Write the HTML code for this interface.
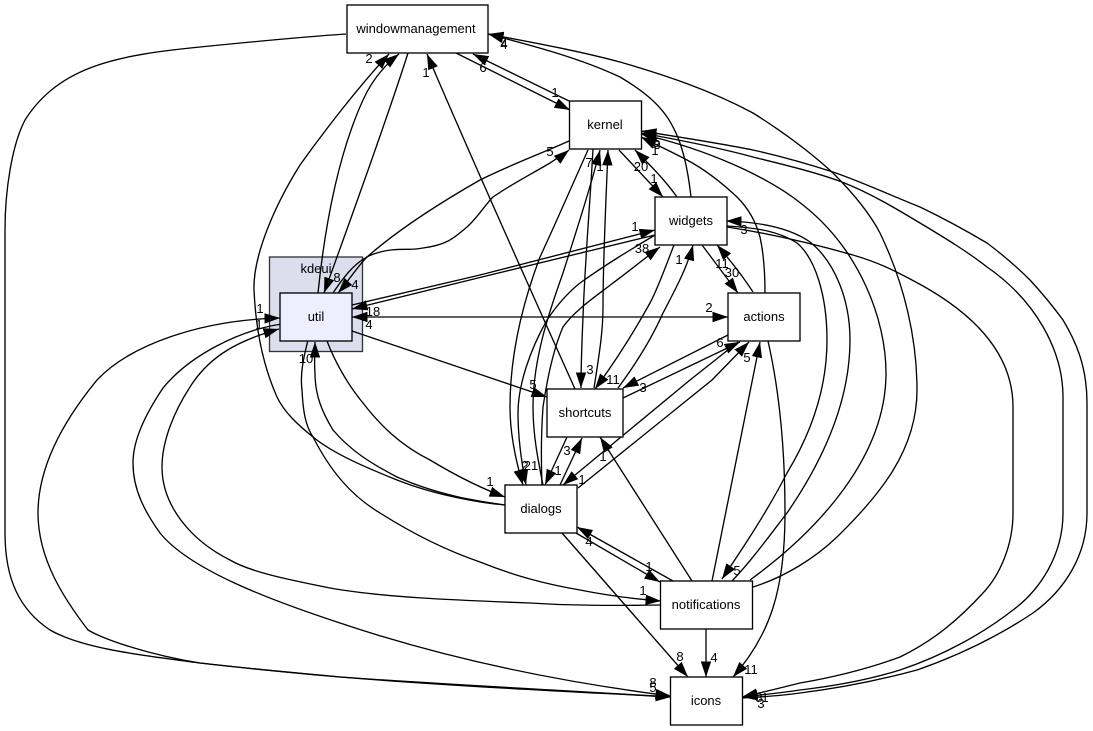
<!DOCTYPE html>
<html><head><meta charset="utf-8"><style>
html,body{margin:0;padding:0;background:#fff;width:1093px;height:731px;overflow:hidden}
svg{display:block}
text{font-family:"Liberation Sans",sans-serif;font-size:13px;fill:#000}
.t{text-anchor:middle}
.e path{fill:none;stroke:#000;stroke-width:1.33;marker-end:url(#a)}
.b{fill:#fff;stroke:#000;stroke-width:1.33}
</style></head><body>
<svg width="1093" height="731" viewBox="0 0 1093 731" xmlns="http://www.w3.org/2000/svg">
<defs><marker id="a" markerUnits="userSpaceOnUse" markerWidth="16" markerHeight="12" refX="15.5" refY="6" orient="auto"><polygon points="0,0.8 15.5,6 0,11.2" fill="#000"/></marker>
<marker id="s" markerUnits="userSpaceOnUse" markerWidth="16" markerHeight="12" refX="15.5" refY="6" orient="auto-start-reverse"><polygon points="0,0.8 15.5,6 0,11.2" fill="#000"/></marker></defs>
<rect x="269.5" y="257" width="93" height="94.5" fill="#ddddee" stroke="#333" stroke-width="1.33"/>
<text class="t" x="316" y="273">kdeui</text>
<g class="e">
<path d="M346,34 C300,37 250,42 200,47 C120,55 60,65 25,120 C12,145 5,190 5,230 L5,533 C5,580 20,610 50,630 C85,650 150,656 200,663 C250,669 300,673 340,677 C450,686 560,691 671,697"/>
<path d="M505,505 C480,503 435,495 397,480 C370,469 335,455 313,437 C298,425 284,412 277,397 C265,370 256,335 254,290 C253,255 275,205 300,165 C325,130 360,85 389,54"/>
<path d="M318,293 C325,225 338,155 363,100 C372,80 385,65 399,54"/>
<path d="M408,53 C390,110 345,235 324,293"/>
<path d="M569,141 C540,154 510,165 480,180 C445,200 400,228 367,257 C357,267 347,283 338,293"/>
<path d="M333,293 C345,275 358,258 377,253 C395,247 410,251 423,248 C445,245 452,240 467,227 C478,217 485,205 493,197 C510,185 535,172 550,163 C557,158 563,155 569,150"/>
<path d="M569,101 L473,54"/>
<path d="M456,53 L570,110"/>
<path d="M691,197 C688,170 683,145 673,127 C662,105 642,90 620,77 C580,58 530,45 488,34"/>
<path d="M753,587 C785,577 815,558 837,537 C880,495 917,450 917,390 C917,340 905,285 880,233 C868,210 850,190 833,173 C808,150 780,130 753,113 C710,90 665,75 620,62 C575,50 530,42 488,34"/>
<path d="M750,580 C805,540 886,465 886,373 C886,320 860,250 803,205 C770,178 710,150 641,134"/>
<path d="M765,293 C765,272 764,255 760,237 C756,222 748,208 737,197 C722,183 706,170 687,160 C672,152 657,145 641,137"/>
<path d="M727,226 C760,228 780,232 797,243 C815,258 827,295 827,340 C827,390 810,435 787,473 C768,510 745,545 722,579"/>
<path d="M732,581 C752,560 770,535 787,513 C820,465 850,405 850,340 C850,300 835,262 810,242 C790,228 760,222 726,221"/>
<path d="M727,227 C760,232 800,240 853,255 C880,263 895,271 912,280 C960,305 1013,345 1013,407 L1013,513 C1013,545 1000,575 983,593 C960,618 935,640 900,657 C870,668 835,677 800,683 C780,688 760,693 742,697"/>
<path d="M641,133 C680,140 720,148 753,157 C785,165 815,172 842,182 C870,193 895,208 920,223 C945,238 968,252 987,267 C1035,300 1063,350 1063,397 L1063,513 C1063,555 1040,590 1013,610 C985,632 945,655 900,670 C868,680 835,686 800,690 C780,693 760,695 742,697"/>
<path d="M742,698 C760,697 780,696 800,693 C840,688 880,680 917,670 C960,655 1000,635 1033,613 C1065,590 1087,555 1087,513 L1087,403 C1087,365 1075,340 1063,320 C1052,305 1042,293 1030,280 C1018,268 1003,255 987,243 C965,230 943,218 920,207 C890,195 862,182 833,172 C805,163 780,156 753,150 C718,143 685,138 641,131"/>
<path d="M671,697 C560,690 450,685 340,677 C290,673 245,668 200,663 C150,655 105,640 88,630 C65,600 38,560 38,513 C38,470 60,425 97,380 C130,345 200,320 280,318"/>
<path d="M282,324 C240,330 190,355 163,388 C145,415 133,440 133,463 C133,490 145,512 160,533 C190,570 270,600 340,623 C450,660 560,682 671,696"/>
<path d="M660,605 C600,606 560,605 530,603 C450,600 380,597 330,588 C290,580 250,572 230,560 C190,540 162,505 162,467 C162,440 175,410 190,387 C210,355 240,340 279,329"/>
<path d="M308,340 C303,360 300,375 302,390 C303,410 305,425 313,437 C330,470 350,495 380,513 C410,532 445,550 480,562 C515,576 545,584 580,590 C610,596 635,599 661,601"/>
<path d="M505,505 C490,503 478,501 463,498 C440,493 420,487 397,477 C370,463 350,450 333,430 C322,412 315,395 315,373 C314,362 315,352 315,342"/>
<path d="M327,341 C335,362 348,385 363,403 C380,425 400,445 430,460 C455,475 480,488 505,497"/>
<path d="M352,305 L480,275 L655,230"/>
<path d="M655,235 L480,277.5 L352,309"/>
<path d="M352,317 L728,317" style="marker-start:url(#s)"/>
<path d="M352,331 L547,397"/>
<path d="M575,389 C535,300 470,155 427,54"/>
<path d="M588,150 C570,190 555,225 540,257 C520,310 510,360 510,407 C510,435 517,465 523,485"/>
<path d="M655,235 C630,250 605,265 580,283 C565,295 555,308 547,320 C530,350 518,385 518,413 C518,440 522,465 526,485"/>
<path d="M600,150 C590,190 575,235 563,273 C548,315 533,360 533,407 C533,435 538,460 543,485" style="marker-start:url(#s);marker-end:none"/>
<path d="M542,485 C541,460 541,435 543,407 C547,380 553,350 563,327 C575,310 595,297 613,283 C628,272 645,258 660,247"/>
<path d="M594,388 C600,350 603,330 603,307 C603,260 606,200 608,150"/>
<path d="M593,149 C590,205 585,260 583,317 C582,340 581,365 581,388"/>
<path d="M619,150 L663,197"/>
<path d="M677,197 C665,180 650,165 635,150"/>
<path d="M702,245 L738,293"/>
<path d="M753,292 C742,275 730,260 717,245"/>
<path d="M674,245 C665,268 658,288 650,303 C635,330 615,362 595,389"/>
<path d="M618,388 C635,365 652,338 663,313 C675,290 687,268 693,245"/>
<path d="M728,335 L623,388"/>
<path d="M623,398 L740,342"/>
<path d="M738,342 L690,380 L563,485"/>
<path d="M578,488 L712,380 L749,342"/>
<path d="M712,581 L760,342"/>
<path d="M768,341 C778,385 785,440 785,513 C785,590 770,635 733,677"/>
<path d="M706,629 L706,677"/>
<path d="M562,533 L688,677"/>
<path d="M673,581 L577,527"/>
<path d="M576,533 L660,582"/>
<path d="M692,581 L600,437"/>
<path d="M567,437 L545,485"/>
<path d="M560,485 L582,438"/>
</g>
<rect x="280" y="293" width="72" height="48" fill="#eeeeff" stroke="#000" stroke-width="1.33"/>
<text class="t" x="316" y="321">util</text>
<rect class="b" x="347" y="5" width="141" height="48"/><text class="t" x="416" y="33">windowmanagement</text>
<rect class="b" x="569.5" y="101" width="72" height="48"/><text class="t" x="605" y="129">kernel</text>
<rect class="b" x="655" y="197" width="72" height="48"/><text class="t" x="691" y="225">widgets</text>
<rect class="b" x="728" y="293" width="72" height="48"/><text class="t" x="764" y="321">actions</text>
<rect class="b" x="547" y="389" width="76" height="48"/><text class="t" x="585" y="417">shortcuts</text>
<rect class="b" x="505" y="485" width="72" height="48"/><text class="t" x="541" y="513">dialogs</text>
<rect class="b" x="660.5" y="581" width="92" height="48"/><text class="t" x="706" y="609">notifications</text>
<rect class="b" x="670.5" y="677" width="72" height="48"/><text class="t" x="706" y="705">icons</text>
<g class="l">
<text class="t" x="369" y="63">2</text><text class="t" x="426" y="77">1</text><text class="t" x="483" y="72">6</text><text class="t" x="555" y="97">1</text>
<text class="t" x="504" y="49">4</text><text class="t" x="504" y="48">4</text><text class="t" x="550" y="156">5</text><text class="t" x="589" y="167">7</text>
<text class="t" x="600" y="171">1</text><text class="t" x="641" y="171">20</text><text class="t" x="654" y="183">1</text><text class="t" x="657" y="147">5</text><text class="t" x="657" y="149">3</text><text class="t" x="655" y="155">1</text>
<text class="t" x="337" y="282">8</text><text class="t" x="355" y="289">4</text><text class="t" x="373" y="316">18</text><text class="t" x="369" y="329">4</text>
<text class="t" x="260" y="313">1</text><text class="t" x="259" y="329">1</text><text class="t" x="306" y="363">10</text>
<text class="t" x="635" y="231">1</text><text class="t" x="642" y="253">38</text><text class="t" x="679" y="264">1</text><text class="t" x="744" y="234">3</text>
<text class="t" x="722" y="268">11</text><text class="t" x="732" y="277">30</text><text class="t" x="709" y="312">2</text><text class="t" x="720" y="347">6</text><text class="t" x="747" y="362">5</text>
<text class="t" x="590" y="374">3</text><text class="t" x="613" y="384">11</text><text class="t" x="643" y="392">3</text><text class="t" x="533" y="389">5</text>
<text class="t" x="567" y="455">3</text><text class="t" x="558" y="475">1</text><text class="t" x="525" y="470">2</text><text class="t" x="531" y="470">21</text>
<text class="t" x="603" y="461">1</text><text class="t" x="582" y="484">1</text><text class="t" x="490" y="486">1</text><text class="t" x="589" y="546">4</text>
<text class="t" x="649" y="571">1</text><text class="t" x="643" y="595">1</text><text class="t" x="737" y="575">5</text><text class="t" x="680" y="661">8</text><text class="t" x="714" y="662">4</text><text class="t" x="751" y="674">11</text>
<text class="t" x="653" y="687">8</text><text class="t" x="653" y="692">5</text><text class="t" x="759" y="702">8</text><text class="t" x="765" y="702">1</text><text class="t" x="761" y="708">3</text>
</g>
</svg>
</body></html>
